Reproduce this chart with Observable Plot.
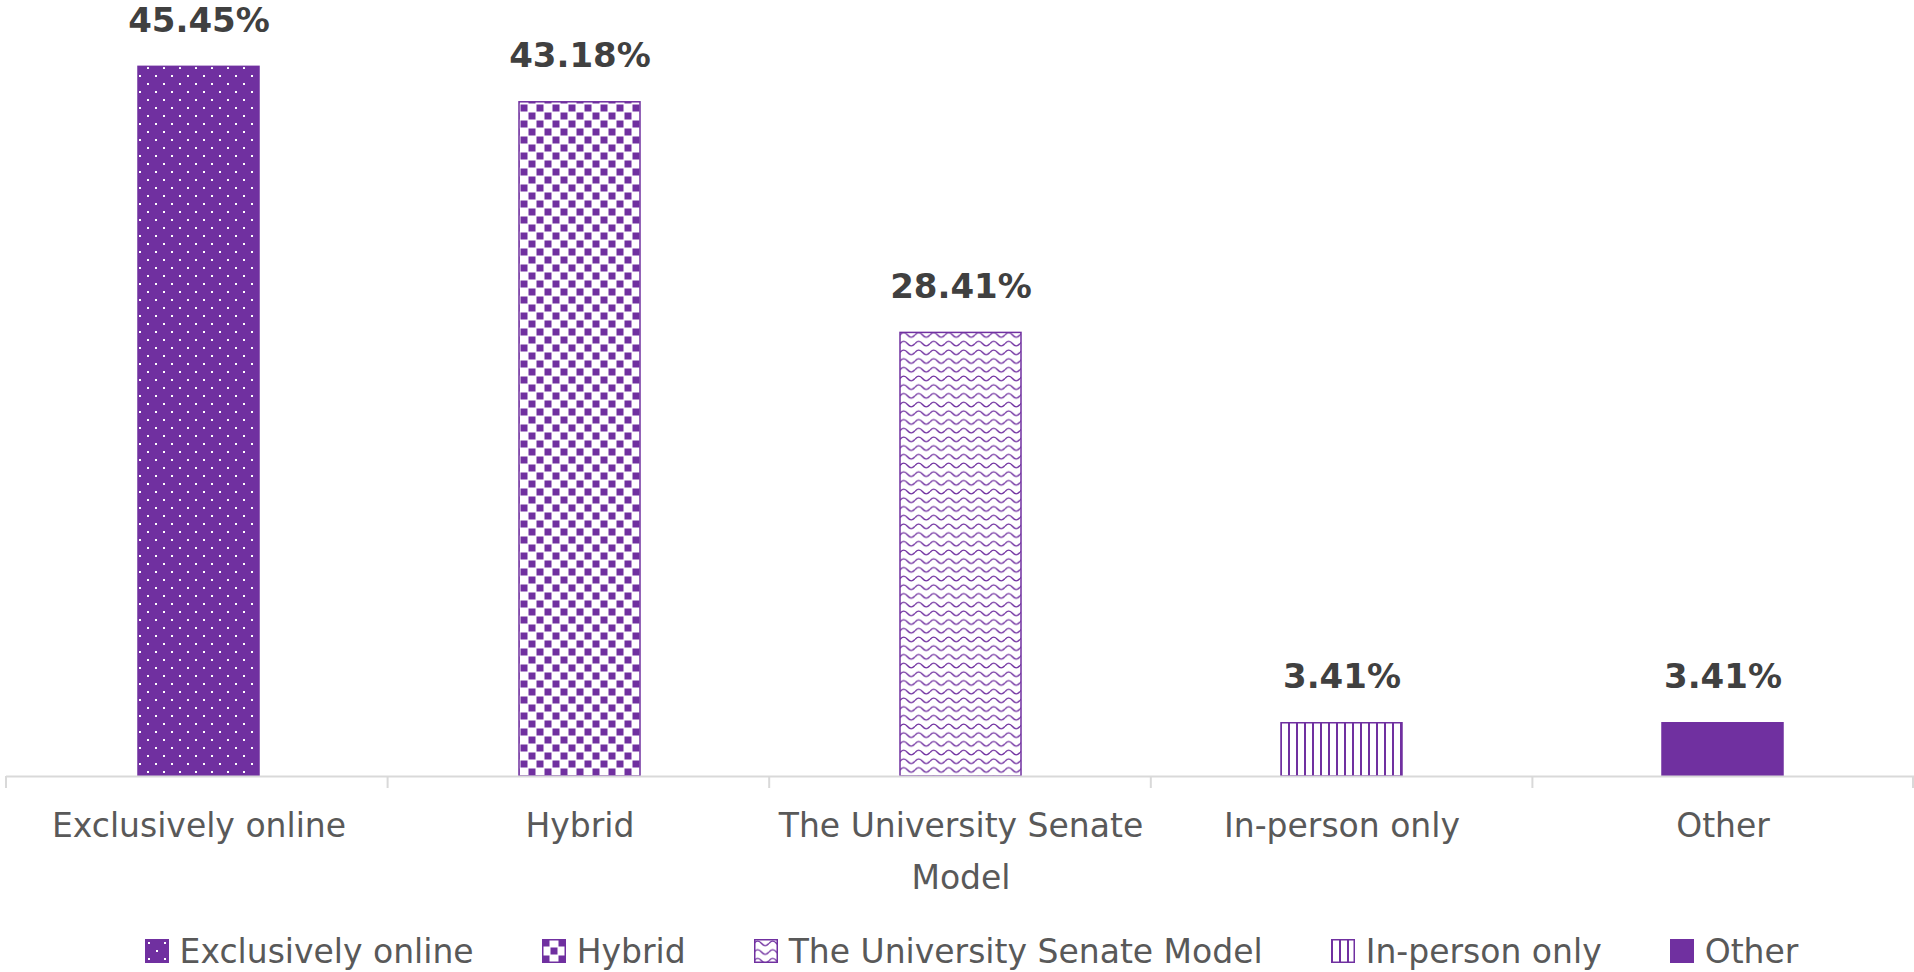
<!DOCTYPE html>
<html><head><meta charset="utf-8">
<script src="https://cdn.jsdelivr.net/npm/d3@7"></script>
<script src="https://cdn.jsdelivr.net/npm/@observablehq/plot@0.6"></script>
<style>
html,body{margin:0;padding:0;background:#fff;}
body{font-family:"DejaVu Sans",Verdana,sans-serif;width:1914px;}
#chart svg{display:block;}
#legend{display:flex;align-items:center;justify-content:center;height:46px;font-size:33px;color:#595959;padding-left:29px;box-sizing:border-box;width:1914px;white-space:nowrap;}
.item{display:flex;align-items:center;margin:0 34px;}
.item svg{margin-right:11px;display:block;}
</style></head><body>
<div id="chart"></div>
<div id="legend"></div>
<script>
// ---- data ----
const categories = ["Exclusively online", "Hybrid", "The University Senate Model", "In-person only", "Other"];
const values = [45.45, 43.18, 28.41, 3.41, 3.41];
const tickLabels = ["Exclusively online", "Hybrid", "The University Senate\nModel", "In-person only", "Other"];
const fills = ["url(#pat-dots)", "url(#pat-checker)", "url(#pat-wave)", "url(#pat-vlines)", "#7030A0"];

const PURPLE = "#7030A0";
const data = categories.map((c, i) => ({category: c, value: values[i], fill: fills[i]}));

const W = 1914, H = 928, ML = 6, MR = 0, MT = 0, MB = 152;

function boundaryTicks(index, scales, vals, dims) {
  const g = d3.create("svg:g");
  const n = categories.length;
  const step = (dims.width - dims.marginLeft - dims.marginRight) / n;
  const y0 = scales.y(0);
  for (let i = 0; i <= n; i++) {
    let xx = dims.marginLeft + i * step;
    if (i === n) xx -= 1;
    g.append("line").attr("x1", xx).attr("x2", xx).attr("y1", y0).attr("y2", y0 + 12)
      .attr("stroke", "#d9d9d9").attr("stroke-width", 2);
  }
  return g.node();
}

const svg = Plot.plot({
  width: W, height: H,
  marginLeft: ML, marginRight: MR, marginTop: MT, marginBottom: MB,
  style: {fontFamily: "'DejaVu Sans', Verdana, sans-serif", background: "#fff", overflow: "visible"},
  x: {domain: categories, paddingInner: 0.683, paddingOuter: 0.3415, label: null},
  y: {domain: [0, 49.7], axis: null},
  color: {type: "identity"},
  marks: [
    Plot.barY(data, {x: "category", y: "value", fill: "fill", stroke: PURPLE, strokeWidth: 1.5}),
    Plot.ruleY([0], {stroke: "#d9d9d9", strokeWidth: 2}),
    boundaryTicks,
    Plot.text(data, {x: "category", y: "value", text: d => d.value.toFixed(2) + "%", dy: -46,
      fontSize: 34, fontWeight: "bold", fill: "#404040"}),
    Plot.axisX({tickSize: 0, tickPadding: 23, fontSize: 33, fill: "#595959", lineHeight: 1.58,
      tickFormat: d => tickLabels[categories.indexOf(d)], label: null})
  ]
});

const defs = `<defs>
<pattern id="pat-dots" patternUnits="userSpaceOnUse" width="16" height="16">
  <rect width="16" height="16" fill="${PURPLE}"/>
  <rect x="3" y="3" width="2" height="2" fill="#fff"/>
  <rect x="11" y="11" width="2" height="2" fill="#fff"/>
</pattern>
<pattern id="pat-checker" patternUnits="userSpaceOnUse" width="16" height="16">
  <rect width="16" height="16" fill="#fff"/>
  <rect x="0.5" y="0.5" width="7" height="7" fill="${PURPLE}"/>
  <rect x="8.5" y="8.5" width="7" height="7" fill="${PURPLE}"/>
</pattern>
<pattern id="pat-wave" patternUnits="userSpaceOnUse" width="15" height="8.7">
  <rect width="15" height="8.7" fill="#fff"/>
  <path d="M0,4.35 C2.5,1.3 5,1.3 7.5,4.35 C10,7.4 12.5,7.4 15,4.35" fill="none" stroke="${PURPLE}" stroke-width="1.4"/>
</pattern>
<pattern id="pat-vlines" patternUnits="userSpaceOnUse" width="8" height="8">
  <rect width="8" height="8" fill="#fff"/>
  <rect x="0" y="0" width="2" height="8" fill="${PURPLE}"/>
</pattern>
</defs>`;
svg.insertAdjacentHTML("afterbegin", defs);
document.getElementById("chart").appendChild(svg);

// ---- legend ----
const legend = d3.select("#legend");
categories.forEach((c, i) => {
  const item = legend.append("div").attr("class", "item");
  const s = item.append("svg").attr("width", 24).attr("height", 24);
  s.append("rect").attr("x", 0.75).attr("y", 0.75).attr("width", 22.5).attr("height", 22.5)
    .attr("fill", fills[i]).attr("stroke", PURPLE).attr("stroke-width", 1.5);
  item.append("span").text(c);
});
</script>
</body></html>
